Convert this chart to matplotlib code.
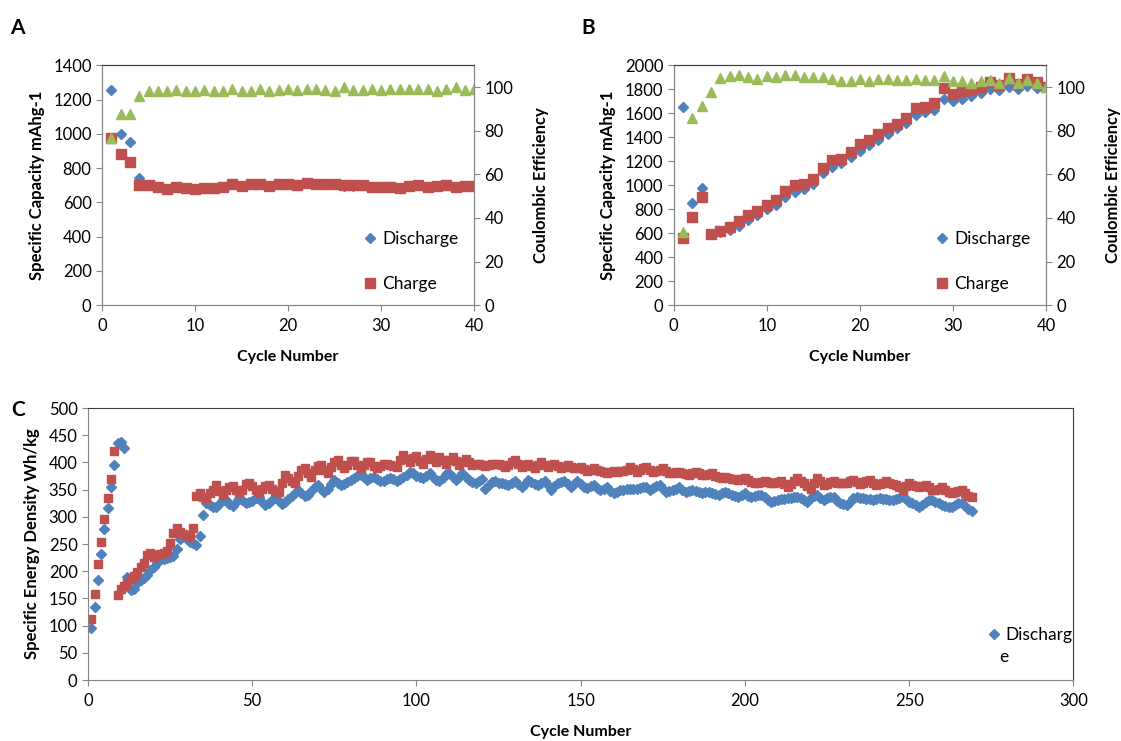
import numpy as np
import matplotlib
matplotlib.use("Agg")
from matplotlib import pyplot as plt
from matplotlib.lines import Line2D

plt.rcParams['font.family'] = ['Lato', 'DejaVu Sans']

# ---- panel A ----
a_cycles = list(range(1, 41))
a_discharge = [1255, 1000, 950, 740, 700, 690, 680, 690, 685, 680, 684, 684, 690, 708, 698, 705,
               708, 698, 708, 708, 704, 714, 708, 708, 708, 698, 698, 704, 690, 690, 690, 684,
               698, 704, 690, 698, 704, 690, 698, 698]
a_charge = [975, 882, 835, 703, 700, 690, 678, 690, 685, 678, 685, 685, 690, 710, 698, 705,
            710, 698, 710, 710, 704, 715, 710, 710, 710, 700, 700, 704, 690, 690, 690, 685,
            698, 704, 690, 698, 704, 690, 698, 698]
a_ce = [76.6, 87.6, 87.6, 96.0, 98.0, 98.0, 98.3, 98.6, 98.0, 98.0, 98.6, 98.3, 98.0, 99.2,
        98.0, 98.3, 99.2, 98.0, 98.6, 98.9, 98.6, 98.9, 98.9, 98.6, 98.3, 99.8, 98.6, 98.6,
        98.9, 98.6, 98.9, 98.9, 98.9, 98.9, 98.9, 98.3, 98.9, 99.8, 98.6, 98.9]

# ---- panel B ----
b_cycles = list(range(1, 41))
b_discharge = [1653, 853, 981, 597, 610, 625, 661, 708, 755, 805, 838, 903, 944, 972, 1014,
               1103, 1153, 1186, 1236, 1283, 1333, 1375, 1431, 1478, 1520, 1583, 1611, 1631,
               1722, 1700, 1722, 1742, 1772, 1800, 1792, 1820, 1800, 1828, 1814, 1820]
b_charge = [561, 736, 903, 597, 619, 653, 700, 750, 783, 833, 881, 950, 1000, 1008, 1056,
            1147, 1208, 1222, 1278, 1347, 1375, 1425, 1481, 1514, 1561, 1644, 1653, 1686,
            1814, 1756, 1783, 1797, 1820, 1856, 1833, 1897, 1847, 1881, 1861, 1820]
b_ce = [33.6, 85.8, 91.1, 97.7, 104.3, 104.9, 105.3, 104.6, 103.5, 104.9, 104.6, 105.3, 105.3,
        104.6, 104.6, 104.6, 103.8, 102.6, 102.6, 103.8, 102.6, 103.5, 103.8, 103.4, 103.4,
        103.8, 103.4, 103.4, 105.0, 102.6, 102.6, 102.0, 102.6, 103.0, 102.0, 104.3, 102.0,
        103.0, 102.0, 100.0]

# ---- panel C ----
c_discharge = [
    96, 135, 184, 232, 278, 317, 354, 396, 436, 438, 426,
    190, 165, 168, 179, 184, 187, 193, 202, 208, 216, 222, 222, 224, 227, 228, 240, 259, 263,
    260, 254, 251, 248, 265, 303, 325, 322, 319, 319, 324, 331, 331, 324, 320, 328, 334, 331,
    326, 328,
    330, 334, 337, 328, 322, 326, 331, 335, 329, 323, 327, 333, 339,
    343, 349, 344, 338, 340, 347, 354, 358, 352, 346, 352, 360, 367, 363, 358, 360, 364, 368,
    372, 375, 377, 373, 368, 371, 374, 370, 366, 365, 369, 372, 369, 366, 370, 373, 377, 383,
    380, 376, 374,
    371, 376, 380, 373, 368, 366, 372, 378, 380, 373, 368, 374, 380, 374, 368, 364, 362, 366,
    369, 352, 358, 364, 366, 363, 362, 360, 358, 362, 365, 360, 355, 361, 368, 364, 360, 358,
    362, 365, 358, 349, 356, 362, 364, 365, 360, 355, 360, 365, 360, 355,
    353, 356, 358, 353, 349, 352, 355, 348, 343, 346, 349, 350, 351, 352, 351, 352, 353, 354,
    355, 350, 353, 356, 358, 352, 346, 348, 349, 352, 355, 350, 346, 348, 349, 347, 345, 343,
    345, 346, 344, 342, 340, 343, 346, 343, 340, 338, 337, 340, 343,
    339, 337, 338, 340, 341, 336, 331, 328, 330, 331, 332, 333, 334, 335, 336, 337, 334, 331,
    328, 334, 338, 340, 335, 331, 334, 337, 336, 330, 325, 323, 322, 327, 334, 337, 335, 334,
    333, 332, 331, 333, 334, 333, 332, 331, 331, 333, 335, 337, 333, 328, 325, 321, 318, 322,
    327, 331, 331, 328, 325, 322, 320, 318, 318, 321, 325, 325, 320, 315, 311]
c_charge = [
    112, 158, 213, 254, 296, 335, 370, 421,
    156, 167, 173, 179, 185, 191, 199, 208, 216, 230, 234, 227, 230, 232, 234, 238, 252, 271,
    279, 273, 269, 267, 263, 279,
    339, 344, 337, 334, 343, 350, 358, 348, 340, 349, 354, 357, 349, 346, 350, 360, 362,
    356, 350, 346, 352, 357, 358, 352, 348, 346, 362, 377, 371, 366, 362, 376, 386, 389, 380,
    374, 386, 393, 395, 387, 380, 392, 400, 404, 396, 389, 396, 402, 403, 395, 389, 395, 400,
    401, 394, 389, 394, 397, 398, 395, 393, 392, 404, 414, 407, 401, 408, 411, 402,
    397, 406, 413, 406, 400, 410, 404, 398, 404, 410, 402, 395, 401, 407, 401, 395, 398, 398,
    396, 394, 396, 397, 397, 398, 395, 392, 396, 400, 404, 398, 392, 395, 398, 393, 389, 395,
    401, 396, 392, 395, 398, 393, 389, 392, 395, 392, 389, 390, 392, 388,
    385, 387, 389, 387, 385, 383, 380, 382, 385, 383, 384, 385, 386, 392, 388, 383, 386, 389,
    392, 387, 383, 385, 387, 389, 384, 380, 381, 382, 383, 380, 378, 377, 380, 383, 380, 377,
    377, 379, 380, 376, 373, 371, 374, 371, 369, 370, 368, 369, 371,
    368, 364, 362, 363, 364, 365, 364, 362, 363, 364, 365, 360, 355, 360, 366, 371, 366, 362,
    357, 352, 362, 371, 365, 358, 361, 364, 365, 363, 362, 362, 362, 365, 367, 364, 361, 362,
    365, 368, 363, 358, 360, 362, 365, 362, 360, 358, 354, 349, 356, 362, 359, 356, 355, 356,
    358, 354, 350, 349, 352, 355, 350, 346, 344, 346, 348, 349, 343, 339, 336]
c_cycles_dis = list(range(1, len(c_discharge) + 1))
c_cycles_chg = list(range(1, len(c_charge) + 1))

BLUE = "#4F81BD"
RED = "#C0504D"
GREEN = "#9BBB59"
AXIS = "#868686"
BORDER = "#404040"
TICK_FS = 12
XLAB_FS = 11.5
YLAB_FS = 12
LEG_FS = 12.5


def style_axes(ax, right=None):
    ax.spines["top"].set_color(BORDER)
    ax.spines["left"].set_color(AXIS)
    ax.spines["bottom"].set_color(AXIS)
    ax.spines["right"].set_color(BORDER if right is None else AXIS)
    ax.tick_params(axis="both", direction="out", length=4, color=AXIS,
                   labelsize=TICK_FS, labelcolor="#000000")
    ax.tick_params(axis="x", pad=5)


fig = plt.figure(figsize=(11.21, 7.41), dpi=100)

for letter, pos, cyc, dis, chg, ce, ymax, ystep in [
        ("A", [0.091, 0.588, 0.332, 0.324], a_cycles, a_discharge, a_charge, a_ce, 1400, 200),
        ("B", [0.601, 0.588, 0.332, 0.324], b_cycles, b_discharge, b_charge, b_ce, 2000, 200)]:
    ax = fig.add_axes(pos)
    ax.plot(cyc, dis, ls="none", marker="D", ms=5, color=BLUE, mec=BLUE)
    ax.plot(cyc, chg, ls="none", marker="s", ms=6.5, color=RED, mec=RED)
    ax.set_xlim(0, 40)
    ax.set_ylim(0, ymax)
    ax.set_xticks(range(0, 41, 10))
    ax.set_yticks(range(0, ymax + 1, ystep))
    ax.set_xlabel("Cycle Number", fontsize=XLAB_FS, fontweight="bold", labelpad=12)
    ax.set_ylabel("Specific Capacity mAhg-1", fontsize=YLAB_FS, fontweight="bold", labelpad=6)
    style_axes(ax, right=True)
    ax2 = ax.twinx()
    ax2.plot(cyc, ce, ls="none", marker="^", ms=7, color=GREEN, mec=GREEN)
    ax2.set_ylim(0, 110)
    ax2.set_yticks(range(0, 101, 20))
    ax2.set_ylabel("Coulombic Efficiency", fontsize=YLAB_FS, fontweight="bold", labelpad=14)
    style_axes(ax2, right=True)
    handles = [Line2D([], [], ls="none", marker="D", ms=5, color=BLUE),
               Line2D([], [], ls="none", marker="s", ms=6.5, color=RED)]
    ax2.legend(handles, ["Discharge", "Charge"], loc="upper left", bbox_to_anchor=(0.66, 0.375),
               frameon=False, fontsize=LEG_FS, handlelength=0.8, handletextpad=0.3,
               labelspacing=1.7)
    fig.text(pos[0] - 0.082, 0.962, letter, fontsize=15, fontweight="bold", va="center")

# panel C
axc = fig.add_axes([0.0785, 0.0823, 0.879, 0.367])
axc.plot(c_cycles_dis, c_discharge, ls="none", marker="D", ms=5, color=BLUE, mec=BLUE)
axc.plot(c_cycles_chg, c_charge, ls="none", marker="s", ms=6.3, color=RED, mec=RED)
axc.set_xlim(0, 300)
axc.set_ylim(0, 500)
axc.set_xticks(range(0, 301, 50))
axc.set_yticks(range(0, 501, 50))
axc.set_xlabel("Cycle Number", fontsize=XLAB_FS, fontweight="bold", labelpad=12)
axc.set_ylabel("Specific Energy Density Wh/kg", fontsize=YLAB_FS, fontweight="bold", labelpad=6)
style_axes(axc)
axc.tick_params(axis="y", right=False)
axc.legend([Line2D([], [], ls="none", marker="D", ms=5, color=BLUE)], ["Discharg"],
           loc="upper left", bbox_to_anchor=(0.905, 0.22), frameon=False, fontsize=LEG_FS,
           handlelength=0.8, handletextpad=0.25, borderaxespad=0)
axc.text(0.925, 0.085, "e", transform=axc.transAxes, fontsize=LEG_FS, va="center")
fig.text(0.010, 0.447, "C", fontsize=15, fontweight="bold", va="center")

fig.savefig("out.png", dpi=100)
